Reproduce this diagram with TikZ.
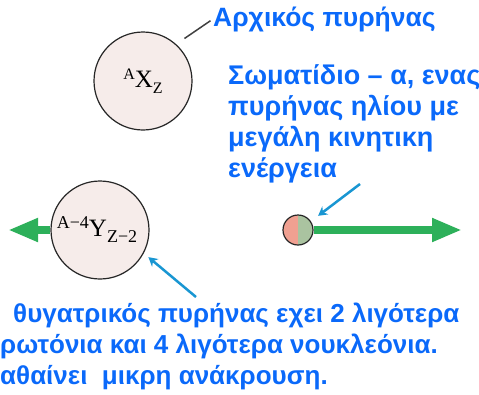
\documentclass[tikz,border=0pt]{standalone}
\usepackage{fontspec}
\setmainfont{Liberation Serif}
\newfontfamily\notefont{Liberation Sans}
\usetikzlibrary{arrows.meta,positioning}

\definecolor{noteblue}{RGB}{10,105,250}
\definecolor{pointcyan}{RGB}{25,150,210}
\definecolor{motiongreen}{RGB}{45,176,90}
\definecolor{nucfill}{RGB}{246,236,234}
\definecolor{alphapink}{RGB}{240,160,145}
\definecolor{alphagreen}{RGB}{170,195,160}

\newcommand{\nuclide}[4][16]{{\fontsize{#1}{#1}\selectfont\raisebox{8pt}{#2}}#3{\fontsize{#1}{#1}\selectfont\raisebox{-6pt}{#4}}}

\begin{document}
\begin{tikzpicture}[x=1pt,y=-1pt,
  nucleus/.style={circle, draw=black!85, line width=1.2pt, fill=nucfill, minimum size=98pt, inner sep=0pt, font=\fontsize{25}{25}\selectfont},
  note/.style={font=\notefont\bfseries\fontsize{26}{31}\selectfont, text=noteblue, align=left, inner sep=0pt},
  recoil/.style={draw=motiongreen, line width=8pt, -{Triangle[length=30pt,width=22pt]}},
  pointer/.style={draw=pointcyan, line width=2.5pt, -{Stealth[length=9pt,width=10pt]}}]
\useasboundingbox (0,0) rectangle (479,394);

% motion arrows
\coordinate (recoilend) at (8,230);
\coordinate (alphaend) at (462,230);

% nuclei
\node[nucleus] (parent) at (143,81) {\nuclide{A}{X}{Z}};
\node[nucleus] (daughter) at (100,230) {\hspace*{-6pt}\nuclide[18]{A\textminus4}{Y}{Z\textminus2}};
\node[circle, draw=black!85, line width=1.2pt, fill=alphagreen, minimum size=30pt, inner sep=0pt,
  path picture={\fill[alphapink] (path picture bounding box.north west) rectangle (path picture bounding box.south);}] (alpha) at (298,230) {};

\draw[recoil] (daughter.west) -- (recoilend);
\draw[recoil] (alpha.east) -- (alphaend);

% labels
\node[note, anchor=base west] (parentlabel) at (213,26) {\fontsize{26.5}{31}\selectfont Αρχικός πυρήνας};
\node[note, anchor=base west, font=\notefont\bfseries\fontsize{27}{31}\selectfont] (alphalabel) at (228,177) {Σωματίδιο – α, ενας\\πυρήνας ηλίου με\\μεγάλη κινητικη\\ενέργεια};
\node[note, anchor=base west] (daughterlabel) at (0,384) {\hspace*{13pt}θυγατρικός πυρήνας εχει 2 λιγότερα\\ρωτόνια και 4 λιγότερα νουκλεόνια.\\αθαίνει \ μικρη ανάκρουση.};

% pointers
\draw[black!75, line width=1.5pt, shorten <=10pt, shorten >=3pt] (parent.48) -- (parentlabel.west);
\coordinate (alphatail) at (360,184);
\coordinate (daughtertail) at (196,297);
\draw[pointer, shorten >=9pt] (alphatail) -- (alpha.34);
\draw[pointer, shorten >=6pt] (daughtertail) -- (daughter.-28);
\end{tikzpicture}
\end{document}
